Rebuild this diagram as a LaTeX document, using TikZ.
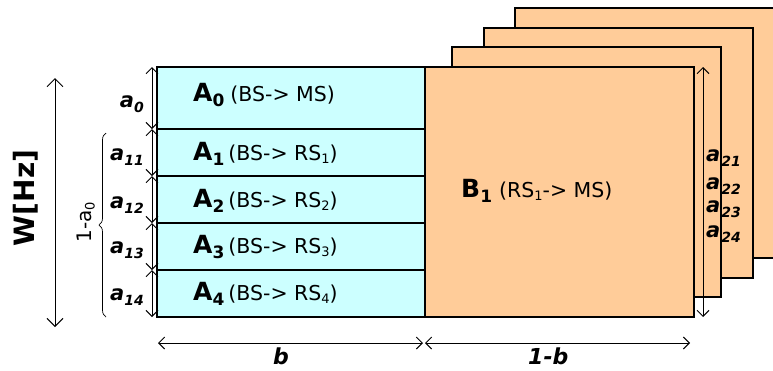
\documentclass[tikz,border=0pt]{standalone}
\usepackage{fontspec}
\setmainfont{DejaVu Sans}
\usetikzlibrary{arrows.meta,decorations.pathreplacing}

\definecolor{cyanbox}{HTML}{CCFFFF}
\definecolor{orangebox}{HTML}{FFCC99}

% big bold symbol with lowered index
\newcommand{\bigsym}[2]{{\fontsize{25}{25}\selectfont\bfseries #1\raisebox{-5pt}{\fontsize{17}{17}\selectfont #2}}}
% italic variable a with index
\newcommand{\avar}[1]{{\fontsize{21}{21}\selectfont\bfseries\itshape a\raisebox{-5pt}{\fontsize{14}{14}\selectfont #1}}}
% small index in the plain text
\newcommand{\psub}[1]{\raisebox{-3pt}{\fontsize{13}{13}\selectfont #1}}
\newcommand{\plain}{\fontsize{20.5}{21}\selectfont}

\begin{document}
\begin{tikzpicture}[x=1pt,y=-1pt,
    box/.style={draw,line width=1.3pt},
    dim/.style={line width=1pt,{Straight Barb[length=6pt,width=12pt]}-{Straight Barb[length=6pt,width=12pt]}},
    bigdim/.style={line width=1pt,{Straight Barb[length=8pt,width=16pt]}-{Straight Barb[length=8pt,width=16pt]}},
    lbl/.style={inner sep=0pt,anchor=base west}]
    \useasboundingbox (0,0) rectangle (773,370);

    % frames stacked behind B1
    \foreach \dx/\dy in {90/-59,59/-39,27/-20}
        \filldraw[box,fill=orangebox] (425+\dx,67+\dy) rectangle ++(269,250);

    % A block and B block
    \filldraw[box,fill=cyanbox] (157,67) rectangle (425,317);
    \foreach \y in {129,176,223,270} \draw[box] (157,\y) -- (425,\y);
    \filldraw[box,fill=orangebox] (425,67) rectangle (694,317);

    % row texts
    \node[lbl] (A0) at (193,101) {\bigsym{A}{0}\hspace{6pt}{\plain(BS-> MS)}};
    \foreach \k/\y in {1/160,2/207,3/253,4/300}
        \node[lbl] (A\k) at (193,\y) {\bigsym{A}{\k}\hspace{4pt}{\plain(BS-> RS\psub{\k})}};
    \node[lbl] (B1) at (461,197) {\bigsym{B}{1}\hspace{7pt}{\plain(RS\psub{1}-> MS)}};

    % left split arrows
    \foreach \y [count=\k from 0] in {67,129,176,223,270,317}
        \coordinate (t\k) at (152,\y);
    \foreach \k [evaluate=\k as \n using int(\k+1)] in {0,...,4}
        \draw[dim] (t\k) -- (t\n);

    \foreach \nm/\y in {0/107,11/160,12/208,13/253,14/300}
        \node[inner sep=0pt,anchor=base east] (a\nm) at (144,\y) {\avar{\nm}};

    % 1-a0 brace
    \coordinate (br1) at (106,317); \coordinate (br2) at (106,133);
    \draw[line width=0.7pt,decorate,decoration={brace,amplitude=7pt}] (br1) -- (br2);
    \node[rotate=90,inner sep=0pt] (rest) at (86,222) {\fontsize{20}{20}\selectfont 1-a\psub{0}};

    % total bandwidth
    \coordinate (w1) at (55,78); \coordinate (w2) at (55,327);
    \draw[bigdim] (w1) -- (w2);
    \node[rotate=90,inner sep=0pt] (W) at (26,198) {\fontsize{28}{28}\selectfont\bfseries W[Hz]};

    % right arrow and labels
    \coordinate (r1) at (703,67); \coordinate (r2) at (703,317);
    \draw[dim] (r1) -- (r2);
    \foreach \nm/\y in {21/161,22/189,23/212,24/237}
        \node[lbl] (a\nm) at (706,\y) {\avar{\hspace{1pt}\nm}};

    % time split arrows
    \coordinate (b1) at (158,343); \coordinate (b2) at (423,343);
    \coordinate (b3) at (425,343); \coordinate (b4) at (690,343);
    \draw[dim] (b1) -- (b2);
    \draw[dim] (b3) -- (b4);
    \node[lbl] (bl) at (273,364) {\fontsize{22}{22}\selectfont\bfseries\itshape b};
    \node[lbl] (cbl) at (528,364) {\fontsize{22}{22}\selectfont\bfseries\itshape 1-b};
\end{tikzpicture}
\end{document}
